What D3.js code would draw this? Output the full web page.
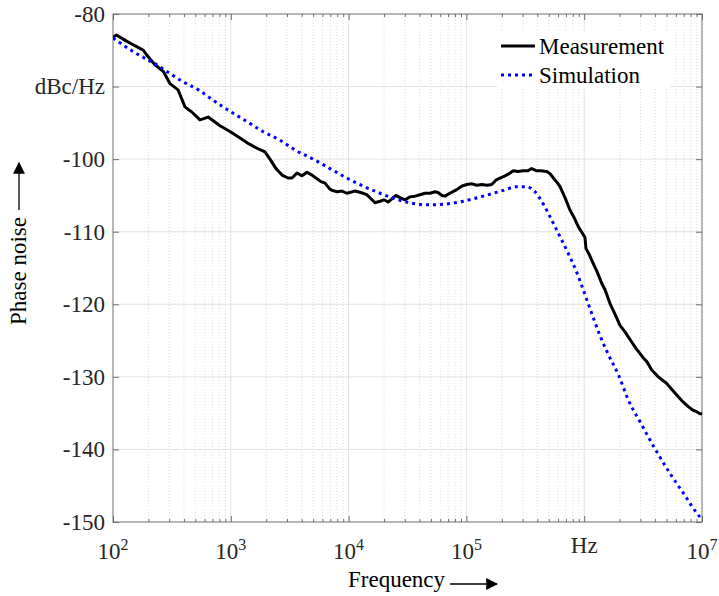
<!DOCTYPE html>
<html>
<head>
<meta charset="utf-8">
<script src="https://cdn.jsdelivr.net/npm/d3@7"></script>
<style>
  html, body { margin: 0; padding: 0; background: #fff; }
  svg text { font-family: "Liberation Serif", "Times New Roman", serif; }
</style>
</head>
<body>
<svg id="chart" width="719" height="596"></svg>
<script>
// ---------- data ----------
const measFreq = [100,107,126,139,159,181,199,227,267,305,358,408,466,548,643,809,983,1198,1427,1668,1950,2150,2420,2720,3060,3310,3650,4020,4430,4890,5390,5830,6310,6820,7230,7980,8790,9680,11300,12700,14250,15800,16750,18500,19950,21600,23200,25200,27300,30100,33200,36600,40360,44600,49100,54100,57400,62100,65800,72400,82800,91900,100700,111600,122000,135000,150000,164000,178000,193000,213000,230000,250000,274000,304000,333000,358000,395000,429000,481000,513000,547000,588000,624000,687000,757000,818000,891000,957000,1016000,1035000,1100000,1194000,1285000,1408000,1503000,1656000,1830000,2013000,2220000,2530000,2760000,2980000,3180000,3400000,3760000,4260000,4570000,5010000,5460000,6100000,6760000,7650000,8390000,9020000,9600000,10000000];
const measValue = [-83.2,-82.9,-83.6,-84.0,-84.5,-85.0,-85.9,-87.0,-87.9,-89.6,-90.5,-92.8,-93.5,-94.6,-94.2,-95.4,-96.2,-97.1,-97.9,-98.5,-99.0,-100.0,-101.3,-102.2,-102.6,-102.6,-101.9,-102.3,-101.8,-102.2,-102.7,-103.1,-103.3,-104.0,-104.3,-104.5,-104.4,-104.7,-104.4,-104.6,-104.9,-105.6,-106.0,-105.8,-105.6,-105.9,-105.5,-105.0,-105.3,-105.6,-105.2,-105.1,-104.9,-104.7,-104.7,-104.5,-104.6,-105.0,-105.1,-104.7,-104.2,-103.7,-103.5,-103.4,-103.6,-103.5,-103.6,-103.5,-102.9,-102.6,-102.3,-102.0,-101.6,-101.7,-101.6,-101.6,-101.3,-101.6,-101.6,-101.7,-102.0,-102.6,-103.2,-103.8,-105.3,-107.0,-108.0,-109.3,-110.1,-110.8,-112.3,-113.1,-114.4,-115.5,-117.1,-118.0,-119.9,-121.4,-122.9,-123.8,-125.2,-126.1,-126.8,-127.4,-127.9,-129.1,-130.0,-130.4,-130.9,-131.6,-132.5,-133.3,-134.1,-134.6,-134.8,-135.1,-135.1];

const simFreq = [100,149,235,371,548,710,983,1365,1876,2620,3570,5010,6950,9640,13250,18500,25200,35400,46000,65800,94200,139000,206000,267000,325000,382000,450000,530000,624000,733000,864000,952000,1120000,1360000,1600000,1950000,2370000,2980000,4120000,5350000,6930000,9600000,10000000];
const simValue = [-83.3,-85.2,-87.0,-89.1,-90.6,-91.9,-93.4,-94.8,-96.2,-97.4,-98.8,-100.0,-101.3,-102.6,-103.7,-104.7,-105.5,-106.1,-106.3,-106.2,-105.8,-105.1,-104.3,-103.8,-103.8,-104.5,-106.2,-108.4,-110.7,-113.0,-115.6,-117.4,-120.6,-124.3,-126.9,-129.7,-133.2,-136.2,-140.3,-143.3,-146.0,-149.3,-149.6];

const xTickValues = [1e2,1e3,1e4,1e5,1e6,1e7];
const xTickBase = ["10","10","10","10","Hz","10"];
const xTickExp = ["2","3","4","5","","7"];
const yTickValues = [-80,-90,-100,-110,-120,-130,-140,-150];
const yTickLabels = ["-80","dBc/Hz","-100","-110","-120","-130","-140","-150"];
const seriesNames = ["Measurement","Simulation"];

// ---------- layout ----------
const svg = d3.select("#chart");
const L = 113, R = 702, T = 14, B = 522;
const x = d3.scaleLog().domain([1e2,1e7]).range([L,R]);
const y = d3.scaleLinear().domain([-150,-80]).range([B,T]);

// minor positions
const minor = [];
for (let e = 2; e < 7; e++) for (let k = 2; k <= 9; k++) minor.push(k * Math.pow(10, e));

// grid
const grid = svg.append("g");
grid.selectAll(".gm").data(minor).join("line")
  .attr("x1", d => x(d)).attr("x2", d => x(d)).attr("y1", T).attr("y2", B)
  .attr("stroke", "#d4d4d4").attr("stroke-width", 0.8).attr("stroke-dasharray", "1,2");
grid.selectAll(".gx").data(xTickValues.slice(1,-1)).join("line")
  .attr("x1", d => x(d)).attr("x2", d => x(d)).attr("y1", T).attr("y2", B)
  .attr("stroke", "#e3e3e3").attr("stroke-width", 1);
grid.selectAll(".gy").data(yTickValues.slice(1,-1)).join("line")
  .attr("x1", L).attr("x2", R).attr("y1", d => y(d)).attr("y2", d => y(d))
  .attr("stroke", "#e3e3e3").attr("stroke-width", 1);

// axes with inward ticks
const axisColor = "#6e6e6e";
function styleAxis(g) {
  g.select(".domain").remove();
  g.selectAll("line").attr("stroke", axisColor);
  g.selectAll("text").remove();
}
svg.append("g").attr("transform", `translate(0,${B})`)
  .call(d3.axisBottom(x).tickValues(xTickValues).tickSizeInner(-6).tickSizeOuter(0)).call(styleAxis);
svg.append("g").attr("transform", `translate(0,${B})`)
  .call(d3.axisBottom(x).tickValues(minor).tickSizeInner(-3).tickSizeOuter(0)).call(styleAxis);
svg.append("g").attr("transform", `translate(0,${T})`)
  .call(d3.axisTop(x).tickValues(xTickValues).tickSizeInner(-6).tickSizeOuter(0)).call(styleAxis);
svg.append("g").attr("transform", `translate(0,${T})`)
  .call(d3.axisTop(x).tickValues(minor).tickSizeInner(-3).tickSizeOuter(0)).call(styleAxis);
svg.append("g").attr("transform", `translate(${L},0)`)
  .call(d3.axisLeft(y).tickValues(yTickValues).tickSizeInner(-6).tickSizeOuter(0)).call(styleAxis);
svg.append("g").attr("transform", `translate(${R},0)`)
  .call(d3.axisRight(y).tickValues(yTickValues).tickSizeInner(-6).tickSizeOuter(0)).call(styleAxis);

// legend background (drawn over grid, under box)
svg.append("rect").attr("x", 497).attr("y", 31).attr("width", 173).attr("height", 58).attr("fill", "#fff");

// box
svg.append("rect").attr("x", L).attr("y", T).attr("width", R - L).attr("height", B - T)
  .attr("fill", "none").attr("stroke", axisColor).attr("stroke-width", 1);

// tick labels
const txtColor = "#262626";
svg.append("g").selectAll("text").data(yTickValues).join("text")
  .attr("x", 105).attr("y", d => y(d)).attr("dy", "0.34em")
  .attr("text-anchor", "end").attr("font-size", 23).attr("fill", txtColor)
  .text((d,i) => yTickLabels[i]);

const xt = svg.append("g").selectAll("text").data(xTickValues).join("text")
  .attr("x", d => x(d)).attr("y", (d,i) => xTickExp[i] ? 559 : 553)
  .attr("text-anchor", "middle").attr("font-size", 23).attr("fill", txtColor);
xt.append("tspan").text((d,i) => xTickBase[i]);
xt.append("tspan").attr("font-size", 16).attr("dy", -9).text((d,i) => xTickExp[i]);

// clip
svg.append("clipPath").attr("id", "clip").append("rect")
  .attr("x", L).attr("y", T).attr("width", R - L).attr("height", B - T);

// series
const measData = measFreq.map((f,i) => [f, measValue[i]]);
const simData = simFreq.map((f,i) => [f, simValue[i]]);
const line = d3.line().x(d => x(d[0])).y(d => y(d[1]));
const smooth = d3.line().x(d => x(d[0])).y(d => y(d[1])).curve(d3.curveMonotoneX);

const plot = svg.append("g").attr("clip-path", "url(#clip)");
plot.append("path").datum(measData).attr("d", line)
  .attr("fill", "none").attr("stroke", "#000").attr("stroke-width", 3).attr("stroke-linejoin", "round");
plot.append("path").datum(simData).attr("d", smooth)
  .attr("fill", "none").attr("stroke", "#0000ff").attr("stroke-width", 3).attr("stroke-dasharray", "3,4");

// legend
const lg = svg.append("g");
lg.append("line").attr("x1", 501).attr("x2", 535).attr("y1", 46).attr("y2", 46)
  .attr("stroke", "#000").attr("stroke-width", 3);
lg.append("line").attr("x1", 501).attr("x2", 535).attr("y1", 75).attr("y2", 75)
  .attr("stroke", "#0000ff").attr("stroke-width", 3).attr("stroke-dasharray", "3,4");
lg.selectAll("text").data(seriesNames).join("text")
  .attr("x", 539).attr("y", (d,i) => i ? 83 : 54)
  .attr("font-size", 23).attr("fill", "#000").text(d => d);

// axis labels with arrows
svg.append("defs").append("marker").attr("id", "arr")
  .attr("viewBox", "0 0 10 10").attr("refX", 9).attr("refY", 5)
  .attr("markerWidth", 12).attr("markerHeight", 12).attr("markerUnits", "userSpaceOnUse")
  .attr("orient", "auto")
  .append("path").attr("d", "M0,0 L10,5 L0,10 Z").attr("fill", "#000");

svg.append("text").attr("x", 348).attr("y", 587).attr("font-size", 23).attr("fill", "#000").text("Frequency");
svg.append("line").attr("x1", 450).attr("x2", 497).attr("y1", 584).attr("y2", 584)
  .attr("stroke", "#000").attr("stroke-width", 1.3).attr("marker-end", "url(#arr)");

svg.append("text").attr("transform", "translate(26,325) rotate(-90)")
  .attr("font-size", 23).attr("fill", "#000").text("Phase noise");
svg.append("line").attr("x1", 19).attr("x2", 19).attr("y1", 210).attr("y2", 163)
  .attr("stroke", "#000").attr("stroke-width", 1.3).attr("marker-end", "url(#arr)");
</script>
</body>
</html>
